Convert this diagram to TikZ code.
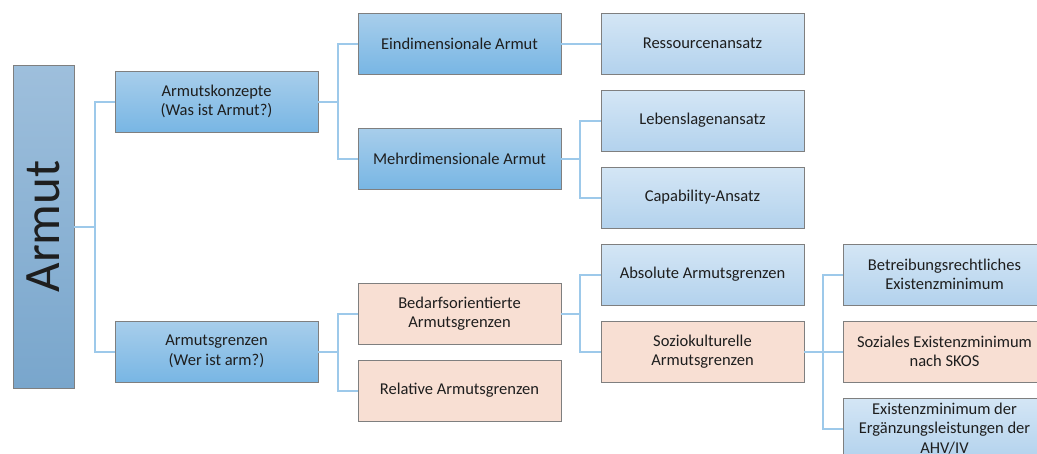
\documentclass[tikz,border=0pt]{standalone}
\usepackage{fontspec}
\setmainfont{Carlito}
\definecolor{linec}{HTML}{9DC9EA}
\definecolor{bordc}{HTML}{7F7F7F}
\definecolor{txtc}{HTML}{1E1E1E}
\definecolor{roott}{HTML}{9EBFDC}
\definecolor{rootb}{HTML}{79A6CC}
\definecolor{midt}{HTML}{A8CEEB}
\definecolor{midb}{HTML}{78B6E4}
\definecolor{lightt}{HTML}{D4E6F5}
\definecolor{lightb}{HTML}{B3D2ED}
\definecolor{pinkc}{HTML}{F8DFD3}
\tikzset{
  box/.style={draw=bordc, line width=0.9pt, minimum width=203pt, minimum height=61pt,
    inner sep=2pt, align=center, text=txtc, font=\fontsize{16.5}{19.5}\selectfont},
  midbox/.style={box, top color=midt, bottom color=midb},
  lightbox/.style={box, top color=lightt, bottom color=lightb},
  pinkbox/.style={box, fill=pinkc},
  rootbox/.style={draw=bordc, line width=0.9pt, minimum width=61pt, minimum height=323pt,
    top color=roott, bottom color=rootb, inner sep=0pt},
  conn/.style={draw=linec, line width=2pt}
}
\begin{document}
\begin{tikzpicture}[x=1pt,y=-1pt]
\useasboundingbox (0,0) rectangle (1037,453);
\clip (0,0) rectangle (1037,453);
\fill[white] (0,0) rectangle (1037,453);
\node[rootbox] (root) at (43.5,226.5) {};
\node[rotate=90, text=txtc, font=\fontsize{51}{55}\selectfont] (roottxt) at (root.center) {Armut};
\node[midbox] (konz) at (216.5,101.5) {Armutskonzepte\\(Was ist Armut?)};
\node[midbox] (grenz) at (216.5,351.5) {Armutsgrenzen\\(Wer ist arm?)};
\node[midbox] (ein) at (459.5,43.5) {Eindimensionale Armut};
\node[midbox] (mehr) at (459.5,158.5) {Mehrdimensionale Armut};
\node[pinkbox] (bedarf) at (459.5,313.5) {Bedarfsorientierte\\Armutsgrenzen};
\node[pinkbox] (rel) at (459.5,390.5) {Relative Armutsgrenzen};
\node[lightbox] (ress) at (702.5,43.5) {Ressourcenansatz};
\node[lightbox] (leb) at (702.5,120.5) {Lebenslagenansatz};
\node[lightbox] (cap) at (702.5,197.5) {Capability-Ansatz};
\node[lightbox] (abs) at (702.5,274.5) {Absolute Armutsgrenzen};
\node[pinkbox] (sozk) at (702.5,351.5) {Soziokulturelle\\Armutsgrenzen};
\node[lightbox] (betr) at (944.5,274.5) {Betreibungsrechtliches\\Existenzminimum};
\node[pinkbox] (sozex) at (944.5,351.5) {Soziales Existenzminimum\\nach SKOS};
\node[lightbox] (ezm) at (944.5,428.5) {Existenzminimum der\\Ergänzungsleistungen der\\AHV/IV};
\draw[conn] (root.east) -- ++(21,0) |- (konz.west);
\draw[conn] (root.east) -- ++(21,0) |- (grenz.west);
\draw[conn] (konz.east) -- ++(20,0) |- (ein.west);
\draw[conn] (konz.east) -- ++(20,0) |- (mehr.west);
\draw[conn] (grenz.east) -- ++(20,0) |- (bedarf.west);
\draw[conn] (grenz.east) -- ++(20,0) |- (rel.west);
\draw[conn] (ein.east) -- (ress.west);
\draw[conn] (mehr.east) -- ++(19,0) |- (leb.west);
\draw[conn] (mehr.east) -- ++(19,0) |- (cap.west);
\draw[conn] (bedarf.east) -- ++(19,0) |- (abs.west);
\draw[conn] (bedarf.east) -- ++(19,0) |- (sozk.west);
\draw[conn] (sozk.east) -- ++(19,0) |- (betr.west);
\draw[conn] (sozk.east) -- ++(19,0) |- (sozex.west);
\draw[conn] (sozk.east) -- ++(19,0) |- (ezm.west);
\end{tikzpicture}
\end{document}
